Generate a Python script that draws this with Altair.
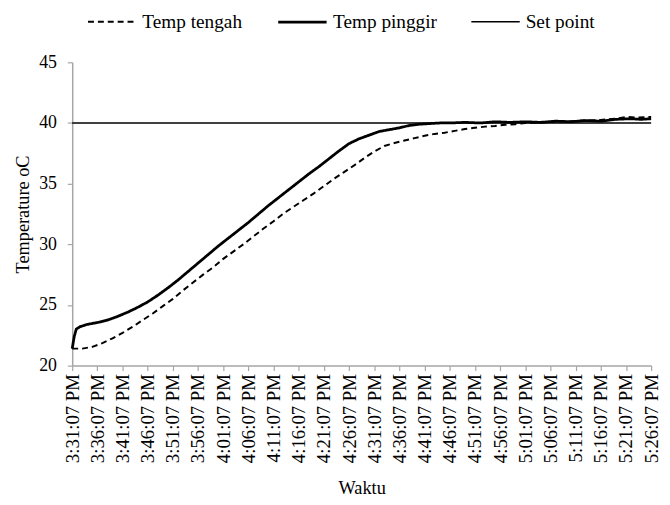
import altair as alt
import pandas as pd

# ---------------- data ----------------
tick_labels = [
    "3:31:07 PM", "3:36:07 PM", "3:41:07 PM", "3:46:07 PM", "3:51:07 PM",
    "3:56:07 PM", "4:01:07 PM", "4:06:07 PM", "4:11:07 PM", "4:16:07 PM",
    "4:21:07 PM", "4:26:07 PM", "4:31:07 PM", "4:36:07 PM", "4:41:07 PM",
    "4:46:07 PM", "4:51:07 PM", "4:56:07 PM", "5:01:07 PM", "5:06:07 PM",
    "5:11:07 PM", "5:16:07 PM", "5:21:07 PM", "5:26:07 PM",
]
y_ticks = [20, 25, 30, 35, 40, 45]
series_names = ["Temp tengah", "Temp pinggir", "Set point"]

# minutes after 3:31:07 PM
tengah_min = [0, 2, 4, 6, 8, 10, 12, 14, 16, 18, 20, 22, 24, 26, 28, 30, 32, 34,
              36, 38, 40, 42, 44, 46, 48, 50, 52, 54, 56, 58, 60, 62, 64, 66, 68,
              70, 72, 74, 76, 78, 80, 82, 84, 86, 88, 90, 93, 96, 99, 102, 105,
              108, 110, 112, 115]
tengah_val = [21.4, 21.4, 21.55, 21.85, 22.25, 22.7, 23.2, 23.75, 24.3, 24.9,
              25.5, 26.2, 26.85, 27.5, 28.1, 28.8, 29.4, 30.0, 30.65, 31.3, 31.9,
              32.55, 33.1, 33.65, 34.2, 34.8, 35.4, 35.95, 36.5, 37.1, 37.65,
              38.1, 38.35, 38.55, 38.75, 38.95, 39.1, 39.2, 39.35, 39.5, 39.6,
              39.7, 39.75, 39.85, 39.9, 40.0, 40.05, 40.1, 40.15, 40.2, 40.25,
              40.35, 40.5, 40.45, 40.5]

pinggir_min = [0, 0.4, 0.8, 1.5, 3, 5, 7, 9, 11, 13, 15, 17, 19, 21, 23, 25, 27,
               29, 31, 33, 35, 37, 39, 41, 43, 45, 47, 49, 51, 53, 55, 57, 59, 61,
               63, 65, 67, 69, 71, 73, 75, 78, 81, 84, 87, 90, 93, 96, 99, 102,
               105, 108, 111, 113, 115]
pinggir_val = [21.4, 22.4, 23.0, 23.2, 23.4, 23.55, 23.75, 24.05, 24.4, 24.8,
               25.25, 25.8, 26.4, 27.05, 27.75, 28.45, 29.15, 29.85, 30.5, 31.15,
               31.8, 32.5, 33.2, 33.85, 34.5, 35.15, 35.8, 36.4, 37.05, 37.7,
               38.3, 38.7, 39.0, 39.3, 39.45, 39.6, 39.8, 39.9, 39.95, 40.0,
               40.0, 40.05, 40.0, 40.1, 40.05, 40.1, 40.05, 40.15, 40.1, 40.2,
               40.15, 40.3, 40.35, 40.3, 40.35]

setpoint_min = [0, 115]
setpoint_val = [40, 40]

# ---------------- table ----------------
day = "2024-01-01 "
start = pd.Timestamp(day + "15:31:07")


def rows(name, mins, vals):
    times = start + pd.to_timedelta(mins, unit="min")
    return pd.DataFrame({
        "series": name,
        "time": times.strftime("%Y-%m-%dT%H:%M:%S"),
        "temp": vals,
    })


df = pd.concat([
    rows("Temp tengah", tengah_min, tengah_val),
    rows("Temp pinggir", pinggir_min, pinggir_val),
    rows("Set point", setpoint_min, setpoint_val),
], ignore_index=True)


def to_dt(label):
    t = pd.to_datetime(day + label, format="%Y-%m-%d %I:%M:%S %p")
    return alt.DateTime(year=t.year, month=t.month, date=t.day,
                        hours=t.hour, minutes=t.minute, seconds=t.second)


tick_dts = [to_dt(l) for l in tick_labels]

FONT = "Times New Roman"
GRAY = "#a6a6a6"

legend = alt.Legend(
    title=None, orient="none", legendX=15, legendY=-67, direction="horizontal",
    symbolType="stroke", symbolSize=2400, labelFontSize=19.5, labelFont=FONT,
    labelColor="black", columnPadding=30, labelOffset=5, padding=0,
)

chart = alt.Chart(df).mark_line().encode(
    x=alt.X("time:T",
            scale=alt.Scale(domain=[tick_dts[0], tick_dts[-1]], nice=False),
            axis=alt.Axis(values=tick_dts, format="%-I:%M:%S %p", grid=False,
                          labelAngle=270, title="Waktu", labelPadding=3,
                          titlePadding=16, labelFontSize=19, labelFlush=False,
                          labelOverlap=False)),
    y=alt.Y("temp:Q", scale=alt.Scale(domain=[20, 45], nice=False),
            axis=alt.Axis(values=y_ticks, title="Temperature oC", grid=False,
                          labelPadding=11, titlePadding=6, labelFontSize=18)),
    color=alt.Color("series:N",
                    scale=alt.Scale(domain=series_names,
                                    range=["black", "black", "black"]),
                    legend=legend),
    strokeDash=alt.StrokeDash("series:N",
                              scale=alt.Scale(domain=series_names,
                                              range=[[6, 4], [1, 0], [1, 0]]),
                              legend=legend),
    strokeWidth=alt.StrokeWidth("series:N",
                                scale=alt.Scale(type="ordinal",
                                                domain=series_names,
                                                range=[2, 2.8, 1.6]),
                                legend=legend),
).properties(
    width=586, height=307,
    autosize=alt.AutoSizeParams(type="none"),
    padding={"left": 65, "top": 52, "right": 11, "bottom": 130},
    background="white",
).configure(
    font=FONT
).configure_view(
    stroke=None
).configure_axis(
    domainColor=GRAY, domainWidth=1.5, tickColor=GRAY, tickSize=5,
    tickWidth=1.2, labelColor="black", labelFont=FONT, titleFont=FONT,
    titleFontSize=18.5, titleFontWeight="normal", titleColor="black",
).configure_legend(
    labelFont=FONT
)

chart.save("out.html", embed_options={"renderer": "svg", "actions": False})
